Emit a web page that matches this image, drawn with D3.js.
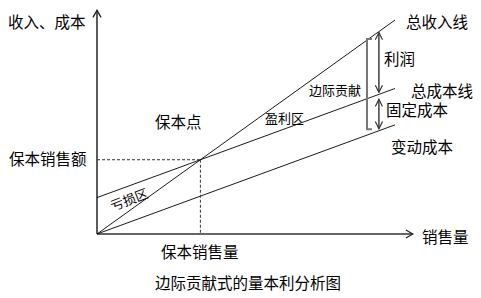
<!DOCTYPE html>
<html>
<head>
<meta charset="utf-8">
<script src="https://cdn.jsdelivr.net/npm/d3@7"></script>
<style>
  body { margin: 0; background: #fff; }
  text { font-family: "Microsoft YaHei", "Noto Sans CJK SC", sans-serif; fill: #000; }
</style>
</head>
<body>
<div id="chart"></div>
<script>
// sales volume at the two ends of each line
var volume = [0, 100];
var revenue = [0, 100];
var totalCost = [17, 68];
var variableCost = [0, 51];
// break-even point (volume, amount)
var breakEven = [34.7, 34.7];
// where the annotation arrows sit (volume)
var bracketAt = 90.6;
var arrowAt = 94.6;

var width = 481, height = 298;

var svg = d3.select("#chart")
    .append("svg")
    .attr("width", width)
    .attr("height", height);

var x = d3.scaleLinear().domain([0, 100]).range([97, 395]);
var y = d3.scaleLinear().domain([0, 100]).range([234, 20]);

var defs = svg.append("defs");
defs.append("marker")
    .attr("id", "axisArrow")
    .attr("viewBox", "0 0 10 10")
    .attr("refX", 9).attr("refY", 5)
    .attr("markerWidth", 10).attr("markerHeight", 10)
    .attr("markerUnits", "userSpaceOnUse")
    .attr("orient", "auto")
    .append("path")
    .attr("d", "M2,1 L9,5 L2,9")
    .attr("fill", "none")
    .attr("stroke", "#222")
    .attr("stroke-width", 1.3);

defs.append("marker")
    .attr("id", "dimArrow")
    .attr("viewBox", "0 0 10 10")
    .attr("refX", 9).attr("refY", 5)
    .attr("markerWidth", 9).attr("markerHeight", 9)
    .attr("markerUnits", "userSpaceOnUse")
    .attr("orient", "auto-start-reverse")
    .append("path")
    .attr("d", "M1,1 L9,5 L1,9")
    .attr("fill", "none")
    .attr("stroke", "#333")
    .attr("stroke-width", 1.3);

// axes
svg.append("line")
    .attr("x1", x(0)).attr("y1", y(0))
    .attr("x2", x(0)).attr("y2", y(104.5))
    .attr("stroke", "#333").attr("stroke-width", 1.6)
    .attr("marker-end", "url(#axisArrow)");

svg.append("line")
    .attr("x1", x(0)).attr("y1", y(0))
    .attr("x2", x(106)).attr("y2", y(0))
    .attr("stroke", "#333").attr("stroke-width", 1.6)
    .attr("marker-end", "url(#axisArrow)");

// the three lines
var series = [revenue, totalCost, variableCost];
svg.append("g")
    .selectAll("line")
    .data(series)
    .join("line")
    .attr("x1", x(volume[0]))
    .attr("y1", d => y(d[0]))
    .attr("x2", x(volume[1]))
    .attr("y2", d => y(d[1]))
    .attr("stroke", "#000")
    .attr("stroke-width", 0.9);

// break-even dashed guides
svg.append("line")
    .attr("x1", x(0)).attr("y1", y(breakEven[1]))
    .attr("x2", x(breakEven[0])).attr("y2", y(breakEven[1]))
    .attr("stroke", "#333").attr("stroke-width", 1)
    .attr("stroke-dasharray", "3,2");

svg.append("line")
    .attr("x1", x(breakEven[0])).attr("y1", y(breakEven[1]))
    .attr("x2", x(breakEven[0])).attr("y2", y(0))
    .attr("stroke", "#333").attr("stroke-width", 1)
    .attr("stroke-dasharray", "3,2");

// contribution margin bracket
var bx = x(bracketAt);
svg.append("path")
    .attr("d", "M" + (bx + 5) + "," + y(91.1) + " H" + bx + " V" + y(49) + " H" + (bx + 5))
    .attr("fill", "none")
    .attr("stroke", "#777")
    .attr("stroke-width", 2);

// profit and fixed cost arrows
var ax = x(arrowAt);
function interp(arr, v) {
    return arr[0] + (arr[1] - arr[0]) * (v - volume[0]) / (volume[1] - volume[0]);
}
svg.append("line")
    .attr("x1", ax).attr("y1", y(interp(revenue, arrowAt)) + 1)
    .attr("x2", ax).attr("y2", y(interp(totalCost, arrowAt)) - 2)
    .attr("stroke", "#333").attr("stroke-width", 1.4)
    .attr("marker-start", "url(#dimArrow)")
    .attr("marker-end", "url(#dimArrow)");

svg.append("line")
    .attr("x1", ax).attr("y1", y(interp(totalCost, arrowAt)) + 5)
    .attr("x2", ax).attr("y2", y(interp(variableCost, arrowAt)) - 2)
    .attr("stroke", "#333").attr("stroke-width", 1.4)
    .attr("marker-start", "url(#dimArrow)")
    .attr("marker-end", "url(#dimArrow)");

// labels
var labels = [
    { t: "收入、成本", x: 8, y: 28, s: 15.5 },
    { t: "保本点", x: 155, y: 128, s: 15.5 },
    { t: "总收入线", x: 406, y: 28, s: 15.5 },
    { t: "利润", x: 384, y: 65, s: 15.5 },
    { t: "边际贡献", x: 309, y: 95, s: 13 },
    { t: "总成本线", x: 411, y: 97, s: 15.5 },
    { t: "盈利区", x: 265, y: 123, s: 13 },
    { t: "固定成本", x: 386, y: 116, s: 15.5 },
    { t: "变动成本", x: 391, y: 153, s: 15.5 },
    { t: "保本销售额", x: 9, y: 165, s: 15.5 },
    { t: "保本销售量", x: 161, y: 258, s: 15.5 },
    { t: "销售量", x: 422, y: 243, s: 15.5 },
    { t: "边际贡献式的量本利分析图", x: 155, y: 289, s: 15.5 }
];

svg.append("g")
    .selectAll("text")
    .data(labels)
    .join("text")
    .attr("x", d => d.x)
    .attr("y", d => d.y)
    .attr("font-size", d => d.s)
    .text(d => d.t);

svg.append("text")
    .attr("transform", "translate(129,199) rotate(-21)")
    .attr("text-anchor", "middle")
    .attr("dominant-baseline", "central")
    .attr("font-size", 13)
    .text("亏损区");
</script>
</body>
</html>
